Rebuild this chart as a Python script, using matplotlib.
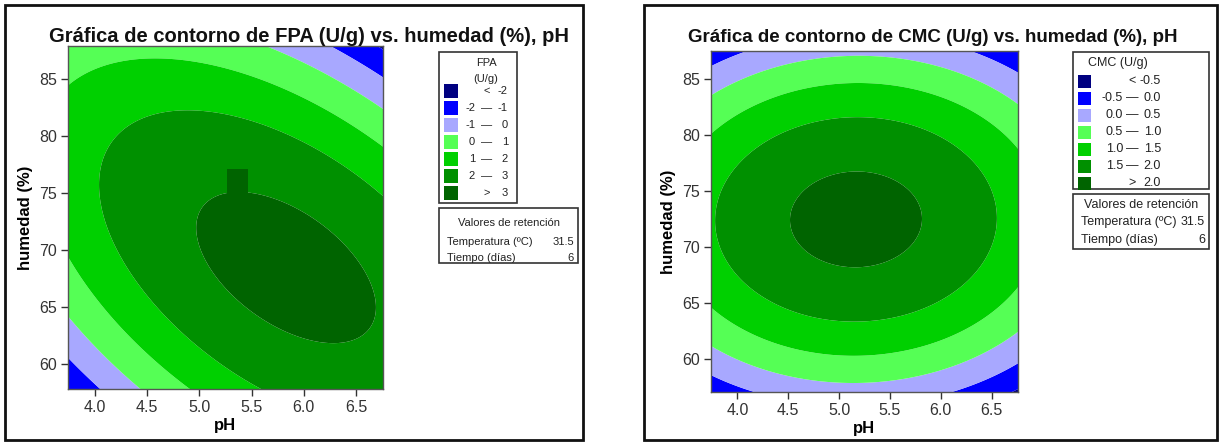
import numpy as np
import matplotlib
matplotlib.use("Agg")
import matplotlib.pyplot as plt
from matplotlib.patches import Rectangle

# Axis ranges and ticks (pH on x, humedad on y)
ph_range = [3.74, 6.76]
fpa_hum_range = [57.8, 87.9]
cmc_hum_range = [57.1, 87.5]
ph_ticks = [4.0, 4.5, 5.0, 5.5, 6.0, 6.5]
humedad_ticks = [60, 65, 70, 75, 80, 85]

# Points on the contour lines of each response (pH, humedad, level)
fpa_ph = [4.00, 4.39, 4.80, 5.52, 5.63, 6.26, 3.74, 4.24,
          4.05, 4.24, 6.13, 6.44, 4.96, 5.00, 5.37, 6.44, 6.28, 4.98]
fpa_hum = [58.3, 58.3, 58.3, 58.0, 87.9, 87.9, 84.9, 86.2,
           77.9, 79.9, 78.8, 77.3, 72.2, 73.5, 74.8, 69.1, 62.1, 70.0]
fpa_val = [-1, 0, 1, 2, 0, -1, 1, 1,
           2, 2, 2, 2, 3, 3, 3, 3, 3, 3]

# cell of the FPA grid that stays above 3 (pH span, humedad span)
fpa_cell_ph = [5.26, 5.47]
fpa_cell_hum = [74.6, 77.1]

cmc_ph = [4.04, 3.74, 6.31, 6.21, 6.76,
          3.74, 4.615, 5.20, 5.99, 6.58,
          3.74, 4.615,
          4.25, 4.615,
          4.59, 5.81, 5.20, 5.20]
cmc_hum = [87.5, 86.2, 87.5, 57.05, 59.7,
           83.75, 86.7, 86.6, 59.3, 61.7,
           80.45, 83.4,
           77.8, 80.45,
           73.5, 73.5, 79.5, 67.5]
cmc_val = [0.0, 0.0, 0.0, 0.0, 0.0,
           0.5, 0.5, 0.5, 0.5, 0.5,
           1.0, 1.0,
           1.5, 1.5,
           2.0, 2.0, 2.0, 2.0]

fpa_levels = [-2, -1, 0, 1, 2, 3]
cmc_levels = [-0.5, 0.0, 0.5, 1.0, 1.5, 2.0]

fpa_legend_low = ["<", "-2", "-1", "0", "1", "2", ">"]
fpa_legend_high = ["-2", "-1", "0", "1", "2", "3", "3"]
cmc_legend_low = ["<", "-0.5", "0.0", "0.5", "1.0", "1.5", ">"]
cmc_legend_high = ["-0.5", "0.0", "0.5", "1.0", "1.5", "2.0", "2.0"]

hold_names = ["Temperatura (ºC)", "Tiempo (días)"]
hold_values = ["31.5", "6"]

level_colors = ["#000080", "#0000FF", "#A8A8FF", "#55FF55",
                "#00D000", "#009000", "#006400"]

W, H = 1219, 442
plt.rcParams["font.family"] = ["Liberation Sans", "DejaVu Sans"]
fig = plt.figure(figsize=(W / 100, H / 100), dpi=100)


def fx(px):
    return px / W


def fy(py):
    return 1 - py / H


def box(x0, y0, x1, y1, lw=1.0, color="#333333"):
    fig.patches.append(Rectangle((fx(x0), fy(y1)), fx(x1) - fx(x0),
                                 fy(y0) - fy(y1), transform=fig.transFigure,
                                 fill=False, lw=lw, edgecolor=color))


def design(ph, hum):
    # full quadratic model in coded units
    X = (np.asarray(ph, float) - 5.25) / 1.51
    Y = (np.asarray(hum, float) - 72.85) / 15.05
    return np.stack([np.ones_like(X), X, Y, X * X, Y * Y, X * Y], axis=-1)


def fit_surface(ph, hum, val):
    coef, *_ = np.linalg.lstsq(design(ph, hum), np.asarray(val, float),
                               rcond=None)
    return coef


def panel(ax_px, pts, hum_range, levels, title, title_xy, title_fs):
    x0, y0, x1, y1 = ax_px
    ax = fig.add_axes([fx(x0), fy(y1), fx(x1) - fx(x0), fy(y0) - fy(y1)])
    coef = fit_surface(*pts)
    ph = np.linspace(ph_range[0], ph_range[1], 400)
    hum = np.linspace(hum_range[0], hum_range[1], 400)
    P, Hm = np.meshgrid(ph, hum)
    Z = design(P, Hm) @ coef
    bounds = [-100] + list(levels) + [100]
    ax.contourf(P, Hm, Z, levels=bounds, colors=level_colors, antialiased=True)
    ax.set_xlim(ph_range)
    ax.set_ylim(hum_range)
    ax.set_xticks(ph_ticks)
    ax.set_xticklabels([f"{t:.1f}" for t in ph_ticks])
    ax.set_yticks(humedad_ticks)
    ax.tick_params(direction="out", length=5, width=1, colors="#333333",
                   labelsize=11.5, labelcolor="#333333", pad=3)
    for s in ax.spines.values():
        s.set_color("#555555")
        s.set_linewidth(1)
    ax.set_xlabel("pH", fontsize=12, fontweight="bold", labelpad=2)
    ax.set_ylabel("humedad (%)", fontsize=12, fontweight="bold", labelpad=4)
    fig.text(fx(title_xy[0]), fy(title_xy[1]), title, fontsize=title_fs,
             fontweight="bold", ha="left", va="center", color="#111111")
    return ax


def legend(lx0, ly0, lx1, ly1, title_lines, title_x, lows, highs, row0, dy,
           sq, xs, fs):
    box(lx0, ly0, lx1, ly1, lw=1.2)
    for i, t in enumerate(title_lines):
        fig.text(fx(title_x), fy(ly0 + 11 + i * 16), t,
                 fontsize=fs, ha="center", va="center", color="#222222")
    n = len(lows)
    xa, xd, xb = xs
    for i in range(n):
        yc = row0 + i * dy
        fig.patches.append(Rectangle((fx(lx0 + 5), fy(yc + sq / 2)),
                                     fx(sq), sq / H,
                                     transform=fig.transFigure,
                                     facecolor=level_colors[i],
                                     edgecolor="none"))
        if i == 0 or i == n - 1:
            fig.text(fx(xd), fy(yc), lows[i], fontsize=fs, ha="center",
                     va="center", color="#222222")
        else:
            fig.text(fx(xa), fy(yc), lows[i], fontsize=fs, ha="right",
                     va="center", color="#222222")
            fig.text(fx(xd), fy(yc), "—", fontsize=fs, ha="center",
                     va="center", color="#222222")
        fig.text(fx(xb), fy(yc), highs[i], fontsize=fs, ha="right",
                 va="center", color="#222222")


def hold_box(bx0, by0, bx1, by1, rows_y, fs):
    box(bx0, by0, bx1, by1, lw=1.2)
    fig.text(fx((bx0 + bx1) / 2), fy(rows_y[0]), "Valores de retención",
             fontsize=fs, ha="center", va="center", color="#222222")
    for name, val, yy in zip(hold_names, hold_values, rows_y[1:]):
        fig.text(fx(bx0 + 8), fy(yy), name, fontsize=fs, ha="left",
                 va="center", color="#222222")
        fig.text(fx(bx1 - 4), fy(yy), val, fontsize=fs, ha="right",
                 va="center", color="#222222")


# panel frames
box(5, 5, 583, 440, lw=2.0, color="#111111")
box(644, 5, 1217, 440, lw=2.0, color="#111111")

ax1 = panel((68, 46, 383, 389), (fpa_ph, fpa_hum, fpa_val), fpa_hum_range,
            fpa_levels,
            "Gráfica de contorno de FPA (U/g) vs. humedad (%), pH",
            (49, 37), 14.5)
ax1.fill_between(fpa_cell_ph, fpa_cell_hum[0], fpa_cell_hum[1],
                 color=level_colors[-1], lw=0)

panel((711, 51, 1018, 392), (cmc_ph, cmc_hum, cmc_val), cmc_hum_range,
      cmc_levels,
      "Gráfica de contorno de CMC (U/g) vs. humedad (%), pH", (688, 37), 13.5)

legend(439, 52, 517, 203, ["FPA", "(U/g)"], 486, fpa_legend_low,
       fpa_legend_high, row0=91, dy=17, sq=14, xs=(475, 487, 508), fs=8)
hold_box(439, 208, 578, 263, [223, 242, 258], fs=8)

legend(1073, 52, 1209, 189, ["CMC (U/g)"], 1118, cmc_legend_low,
       cmc_legend_high, row0=81, dy=17, sq=13, xs=(1123, 1132, 1161), fs=9)
hold_box(1073, 194, 1209, 249, [205, 222, 240], fs=9)

fig.savefig("out.png", dpi=100)
